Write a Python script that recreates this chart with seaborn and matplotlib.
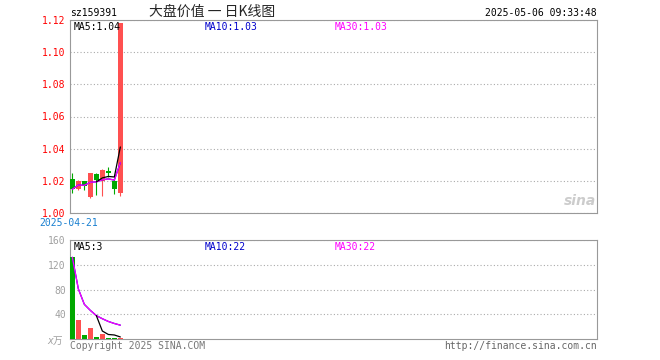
import numpy as np
import pandas as pd
import matplotlib
matplotlib.use('Agg')
import matplotlib.pyplot as plt
import seaborn as sns

# daily candles for sz159391
opens  = [1.0214, 1.0148, 1.0196, 1.0098, 1.0245, 1.0197, 1.0262, 1.0200, 1.0125]
closes = [1.0148, 1.0200, 1.0169, 1.0247, 1.0205, 1.0270, 1.0246, 1.0152, 1.1180]
highs  = [1.0246, 1.0205, 1.0200, 1.0250, 1.0248, 1.0273, 1.0283, 1.0210, 1.1180]
lows   = [1.0127, 1.0140, 1.0145, 1.0096, 1.0115, 1.0106, 1.0225, 1.0117, 1.0104]
volumes = [132, 30, 6, 17, 4, 7.5, 2, 2, 1]

first_date = '2025-04-21'
stamp = '2025-05-06 09:33:48'
code = 'sz159391'
title = '大盘价值 一 日K线图'
price_ticks = [1.00, 1.02, 1.04, 1.06, 1.08, 1.10, 1.12]
vol_ticks = [40, 80, 120, 160]

RED = '#ff5050'
GREEN = '#00a800'
BLUE = '#0000cc'
MAGENTA = '#ff00ff'
BORDER = '#999999'

df = pd.DataFrame({'open': opens, 'close': closes, 'high': highs,
                   'low': lows, 'vol': volumes})
df['i'] = np.arange(len(df))
df['color'] = np.where(df['close'] >= df['open'], RED, GREEN)
for col in ['close', 'vol']:
    df[col + '_ma5'] = df[col].rolling(5).mean()
    df[col + '_ma10'] = df[col].rolling(10, min_periods=1).mean()
    df[col + '_ma30'] = df[col].rolling(30, min_periods=1).mean()

sns.set_style('white')
plt.rcParams['font.family'] = ['DejaVu Sans Mono', 'Noto Sans CJK SC']

W, H = 660, 360
fig = plt.figure(figsize=(6.6, 3.6), dpi=100)
ax = fig.add_axes([70 / W, 147 / H, 527 / W, 193 / H])
axv = fig.add_axes([70 / W, 21 / H, 527 / W, 99 / H])

def px(x, y):
    return x / W, 1 - y / H

xlim = (-0.39, -0.39 + 527 / 6)

# price panel
ax.vlines(df['i'], df['low'], df['high'], colors=df['color'], lw=0.8, zorder=3)
ax.bar(df['i'], (df['close'] - df['open']).abs(),
       bottom=np.minimum(df['open'], df['close']),
       width=0.8, color=df['color'], linewidth=0, zorder=3)
sns.lineplot(data=df, x='i', y='close_ma10', color=BLUE, lw=0.9, ax=ax, zorder=4)
sns.lineplot(data=df, x='i', y='close_ma30', color=MAGENTA, lw=0.9, ax=ax, zorder=4)
sns.lineplot(data=df, x='i', y='close_ma5', color='black', lw=0.9, ax=ax, zorder=4)
ax.set_xlim(*xlim)
ax.set_ylim(1.00, 1.12)
ax.set_yticks(price_ticks)
ax.set_yticklabels([f'{t:.2f}' for t in price_ticks])
ax.set_xticks([])
ax.tick_params(axis='y', length=0, labelsize=7, labelcolor='red', pad=3)
ax.set_xlabel('')
ax.set_ylabel('')
ax.yaxis.grid(True, color='#aaaaaa', linestyle=(0, (1, 2)), lw=0.8)

# volume panel
axv.bar(df['i'], df['vol'], width=0.8, color=df['color'], linewidth=0, zorder=3)
sns.lineplot(data=df, x='i', y='vol_ma10', color=BLUE, lw=0.9, ax=axv, zorder=4)
sns.lineplot(data=df, x='i', y='vol_ma30', color=MAGENTA, lw=0.9, ax=axv, zorder=4)
sns.lineplot(data=df, x='i', y='vol_ma5', color='black', lw=0.9, ax=axv, zorder=4)
axv.set_xlim(*xlim)
axv.set_ylim(0, 160)
axv.set_yticks(vol_ticks)
axv.set_yticklabels([str(t) for t in vol_ticks])
axv.set_xticks([])
axv.tick_params(axis='y', length=0, labelsize=7, labelcolor='#a0a0a0', pad=3)
axv.set_xlabel('')
axv.set_ylabel('')
axv.yaxis.grid(True, color='#aaaaaa', linestyle=(0, (1, 2)), lw=0.8)

for a in (ax, axv):
    for s in a.spines.values():
        s.set_color(BORDER)
        s.set_linewidth(0.8)
        s.set_visible(True)

mono = dict(fontsize=7, va='center')
last = df.iloc[-1]
fig.text(*px(70, 13), code, ha='left', color='black', **mono)
fig.text(*px(212, 12), title, ha='center', va='center', fontsize=10,
         family=['Noto Sans CJK SC', 'DejaVu Sans'])
fig.text(*px(597, 12.5), stamp, ha='right', color='black', **mono)
fig.text(*px(69, 223.5), first_date, ha='center', color='#1a80d0', **mono)

fig.text(*px(74, 26.5), f"MA5:{last['close_ma5']:.2f}", color='black', **mono)
fig.text(*px(205, 26.5), f"MA10:{last['close_ma10']:.2f}", color=BLUE, **mono)
fig.text(*px(335, 26.5), f"MA30:{last['close_ma30']:.2f}", color=MAGENTA, **mono)

fig.text(*px(74, 246.5), f"MA5:{last['vol_ma5']:.0f}", color='black', **mono)
fig.text(*px(205, 246.5), f"MA10:{last['vol_ma10']:.0f}", color=BLUE, **mono)
fig.text(*px(335, 246.5), f"MA30:{last['vol_ma30']:.0f}", color=MAGENTA, **mono)

fig.text(*px(63, 341), 'x万', ha='right', color='#a0a0a0', style='italic', **mono)
fig.text(*px(70, 346), 'Copyright 2025 SINA.COM', ha='left', color='#777777', **mono)
fig.text(*px(597, 346), 'http://finance.sina.com.cn', ha='right', color='#666666', **mono)

fig.text(*px(596, 201), 'sina', ha='right', va='center', color='#cccccc',
         fontsize=10, style='italic', weight='bold', family='DejaVu Sans')

fig.savefig('out.png', dpi=100, facecolor='white')
